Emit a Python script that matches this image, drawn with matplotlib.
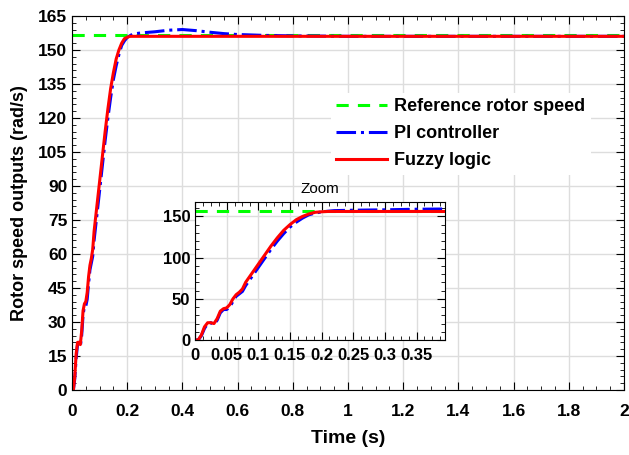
import matplotlib
matplotlib.use("Agg")
import matplotlib.pyplot as plt
from matplotlib.ticker import MultipleLocator

# reference speed (rad/s)
t_ref = [0, 2.0]
w_ref = [156.5, 156.5]

# fuzzy logic controller response
t_fz = [0, 0.005, 0.01, 0.015, 0.02, 0.025, 0.03, 0.035, 0.04, 0.045, 0.05, 0.055,
        0.06, 0.065, 0.07, 0.075, 0.08, 0.09, 0.1, 0.11, 0.12, 0.13, 0.14, 0.15,
        0.16, 0.17, 0.18, 0.19, 0.2, 0.21, 0.22, 0.25, 0.3, 0.5, 1.0, 1.5, 2.0]
w_fz = [0, 0, 6, 16, 21, 21, 20, 26, 35, 38, 39, 43,
        50, 55, 58, 62, 70, 81, 92, 103, 114, 124, 133, 140,
        146, 150, 153, 155, 155.6, 156, 156, 156, 156, 156, 156, 156, 156]

# PI controller response
t_pi = [0, 0.005, 0.01, 0.015, 0.02, 0.025, 0.03, 0.035, 0.04, 0.045, 0.05, 0.055,
        0.06, 0.065, 0.07, 0.075, 0.08, 0.09, 0.1, 0.11, 0.12, 0.13, 0.14, 0.15,
        0.16, 0.17, 0.18, 0.19, 0.2, 0.22, 0.25, 0.3, 0.35, 0.4, 0.45, 0.5, 0.55,
        0.6, 0.7, 0.8, 1.0, 1.5, 2.0]
w_pi = [0, 0, 5, 14, 20, 21, 19, 24, 33, 37, 37, 40,
        47, 53, 56, 59, 66, 77, 88, 99, 110, 120, 129, 137,
        143, 148, 152, 154, 155.5, 157, 157.5, 158, 158.7, 159, 158.5, 157.8, 157.2,
        156.8, 156.4, 156.2, 156, 156, 156]

x_ticks = [0, 0.2, 0.4, 0.6, 0.8, 1.0, 1.2, 1.4, 1.6, 1.8, 2.0]
x_labels = ['0', '0.2', '0.4', '0.6', '0.8', '1', '1.2', '1.4', '1.6', '1.8', '2']
zx_ticks = [0, 0.05, 0.1, 0.15, 0.2, 0.25, 0.3, 0.35]
zx_labels = ['0', '0.05', '0.1', '0.15', '0.2', '0.25', '0.3', '0.35']

plt.rcParams['font.family'] = ['Liberation Sans', 'DejaVu Sans']


def draw(ax):
    ax.plot(t_ref, w_ref, color='#00ff00', ls=(0, (4, 3)), lw=2.2, label='Reference rotor speed')
    ax.plot(t_pi, w_pi, color='#0000ff', ls='-.', lw=2.2, label='PI controller')
    ax.plot(t_fz, w_fz, color='#ff0000', lw=2.2, label='Fuzzy logic')


def style(ax):
    ax.grid(True, color='#dddddd', lw=1)
    ax.set_axisbelow(True)
    ax.tick_params(which='both', direction='in', top=True, right=True)
    ax.tick_params(which='major', length=6)
    ax.tick_params(which='minor', length=3)
    for lab in ax.get_xticklabels() + ax.get_yticklabels():
        lab.set_fontweight('bold')


fig = plt.figure(figsize=(6.29, 4.55), dpi=100)
ax = fig.add_axes([0.1145, 0.143, 0.8775, 0.822])
draw(ax)
ax.set_xlim(0, 2)
ax.set_ylim(0, 165)
ax.set_xticks(x_ticks)
ax.set_xticklabels(x_labels)
ax.xaxis.set_minor_locator(MultipleLocator(0.05))
ax.yaxis.set_major_locator(MultipleLocator(15))
ax.yaxis.set_minor_locator(MultipleLocator(3))
ax.tick_params(labelsize=12.5)
style(ax)
ax.tick_params(axis='x', which='major', pad=10)
ax.set_xlabel('Time (s)', fontsize=14, fontweight='bold', labelpad=8)
ax.set_ylabel('Rotor speed outputs (rad/s)', fontsize=13, fontweight='bold', labelpad=7)

leg = ax.legend(loc='upper left', bbox_to_anchor=(322 / 629, 1 - 84 / 455),
                bbox_transform=fig.transFigure, frameon=True,
                edgecolor='none', facecolor='white', framealpha=1, fancybox=False,
                prop={'size': 13, 'weight': 'bold'}, handlelength=2.8,
                handletextpad=0.4, labelspacing=0.55, borderpad=0.3)

ins = fig.add_axes([0.31, 0.2527, 0.3975, 0.3043])
draw(ins)
ins.set_xlim(0, 0.395)
ins.set_ylim(0, 168)
ins.set_xticks(zx_ticks)
ins.set_xticklabels(zx_labels)
ins.xaxis.set_minor_locator(MultipleLocator(0.0125))
ins.yaxis.set_major_locator(MultipleLocator(50))
ins.yaxis.set_minor_locator(MultipleLocator(10))
ins.tick_params(labelsize=12)
style(ins)
ins.tick_params(axis='x', which='major', pad=6)
ins.set_title('Zoom', fontsize=11, pad=6)

fig.savefig('out.png', dpi=100)
